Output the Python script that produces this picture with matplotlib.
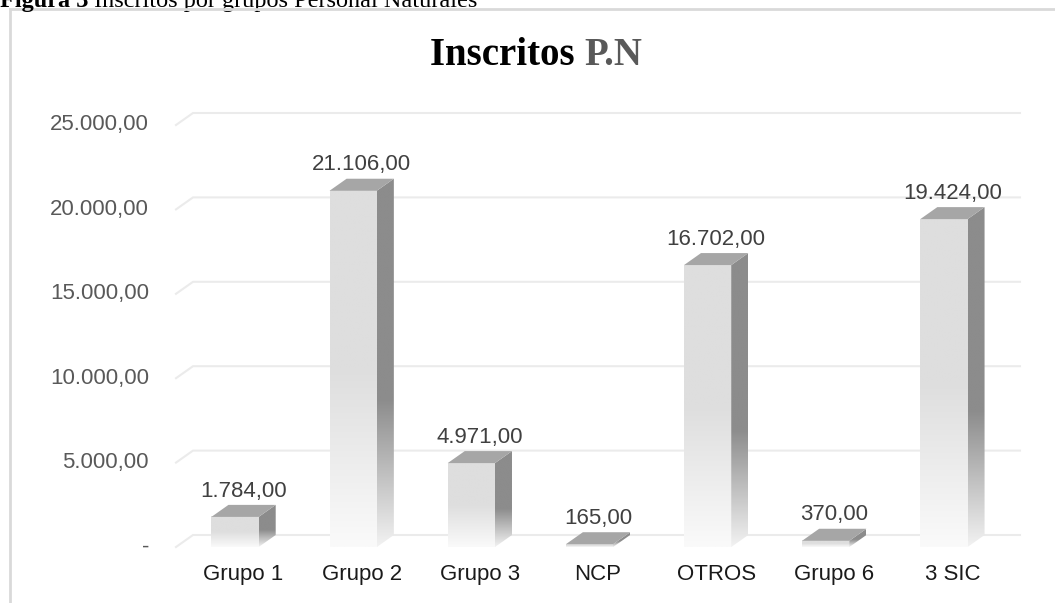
import numpy as np
import matplotlib.pyplot as plt
from matplotlib.patches import Polygon, Rectangle
from matplotlib.colors import to_rgb

# datos
categorias = ["Grupo 1", "Grupo 2", "Grupo 3", "NCP", "OTROS", "Grupo 6", "3 SIC"]
inscritos = [1784, 21106, 4971, 165, 16702, 370, 19424]
ticks_y = [0, 5000, 10000, 15000, 20000, 25000]

W, H = 1055, 603
SANS = "Liberation Sans"
SERIF = "Liberation Serif"


def fmt(v):
    # formato es-CO: 21.106,00 y "-" para el cero
    if v == 0:
        return "-"
    s = f"{v:,.2f}"
    return s.replace(",", "X").replace(".", ",").replace("X", ".")


def gradiente(color, fin, n=200, corte=0.5):
    t = np.linspace(0, 1, n)
    w = np.clip((t - corte) / (1 - corte), 0, 1)
    c0 = np.array(to_rgb(color))
    c1 = np.array(to_rgb(fin))
    img = c0[None, :] * (1 - w[:, None]) + c1[None, :] * w[:, None]
    return img[:, None, :]


fig = plt.figure(figsize=(W / 100, H / 100), dpi=100)
fig.patch.set_facecolor("white")

# area del plano frontal en pixeles
x_izq, x_der = 176, 1003
y_cero, y_tope = 547, 125
ax = fig.add_axes([x_izq / W, (H - y_cero) / H, (x_der - x_izq) / W, (y_cero - y_tope) / H])
ax.set_xlim(-0.5, len(categorias) - 0.5)
ax.set_ylim(0, 25000)
ax.axis("off")

# profundidad 3D (17 px a la derecha, 12 px hacia arriba)
px_cat = (x_der - x_izq) / len(categorias)
px_val = (y_cero - y_tope) / 25000
DX = 17 / px_cat
DY = 12 / px_val
ancho = 0.4

# lineas de cuadricula con su diagonal al fondo
for v in ticks_y:
    ax.plot([-0.5, -0.5 + DX, len(categorias) - 0.5 + DX], [v, v + DY, v + DY],
            color="#ebebeb", lw=1.5, clip_on=False, zorder=1)
    ax.text(-0.5 - 27 / px_cat, v, fmt(v), ha="right", va="center",
            fontsize=16, color="#595959", family=SANS)

for i, (cat, v) in enumerate(zip(categorias, inscritos)):
    x0, x1 = i - ancho / 2, i + ancho / 2
    # cara frontal
    ax.imshow(gradiente("#dedede", "#fafafa", corte=0.5), extent=(x0, x1, 0, v),
              aspect="auto", interpolation="bilinear", zorder=3)
    # cara lateral
    lado = Polygon([(x1, 0), (x1 + DX, DY), (x1 + DX, v + DY), (x1, v)],
                   closed=True, transform=ax.transData)
    im = ax.imshow(gradiente("#8c8c8c", "#f2f2f2", corte=0.6), extent=(x1, x1 + DX, 0, v + DY),
                   aspect="auto", interpolation="bilinear", zorder=3)
    im.set_clip_path(lado)
    # cara superior
    ax.add_patch(Polygon([(x0, v), (x1, v), (x1 + DX, v + DY), (x0 + DX, v + DY)],
                         closed=True, facecolor="#a6a6a6", edgecolor="none", zorder=4))
    # etiqueta de datos
    ax.annotate(fmt(v), (i + DX / 2, v + DY), xytext=(0, 6), textcoords="offset points",
                ha="center", va="baseline", fontsize=16, color="#404040", family=SANS)
    # categoria
    ax.annotate(cat, (i + DX / 2, 0), xytext=(0, -20), textcoords="offset points",
                ha="center", va="center", fontsize=16, color="#1a1a1a", family=SANS,
                annotation_clip=False)

ax.set_xlim(-0.5, len(categorias) - 0.5)
ax.set_ylim(0, 25000)

# titulo
t1 = fig.text(430 / W, 1 - 65 / H, "Inscritos ", fontsize=28, fontweight="bold",
              family=SERIF, color="black", va="baseline", ha="left")
ax.annotate("P.N", xy=(1, 0), xycoords=t1, va="bottom", ha="left", fontsize=28,
            fontweight="bold", family=SERIF, color="#595959", annotation_clip=False)

# leyenda de la figura (cortada arriba, como en el original)
c1 = fig.text(0.0, 1 - 7 / H, "Figura 3", fontsize=17.5, fontweight="bold",
              family=SERIF, color="black", va="baseline", ha="left")
ax.annotate(" Inscritos por grupos Personal Naturales", xy=(1, 0), xycoords=c1,
            va="bottom", ha="left", fontsize=17.5, family=SERIF, color="black",
            annotation_clip=False)

# marco del grafico
fig.add_artist(Rectangle((10 / W, -0.1), 2, 1.1 - 9 / H, transform=fig.transFigure,
                         fill=False, edgecolor="#d9d9d9", lw=2))

fig.savefig("out.png", dpi=100)
